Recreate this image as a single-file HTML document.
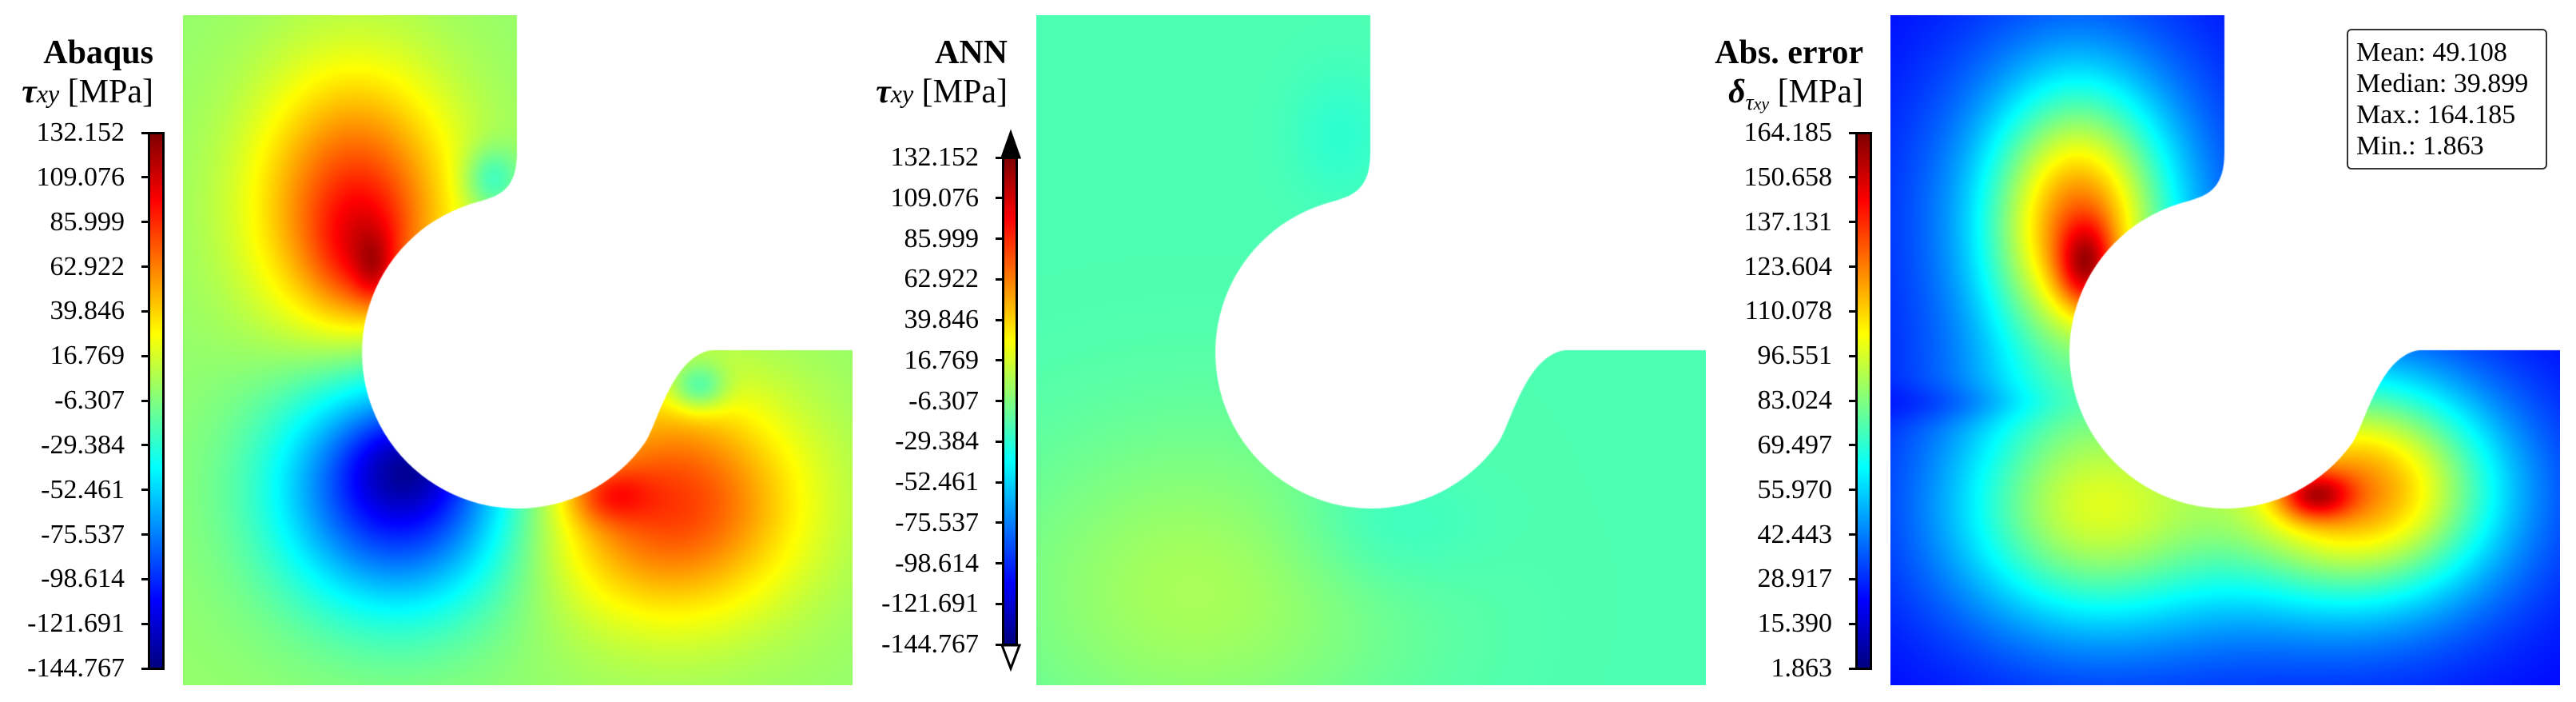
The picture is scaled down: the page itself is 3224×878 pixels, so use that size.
<!DOCTYPE html>
<html><head><meta charset="utf-8">
<style>
body{margin:0;background:#fff;width:3224px;height:878px;position:relative;overflow:hidden;font-family:"Liberation Serif",serif;color:#000}
.abs{position:absolute}
canvas{position:absolute}
.title{position:absolute;text-align:right;font-size:42px;line-height:1;white-space:nowrap}
.lbl{position:absolute;font-size:34px;text-align:right;width:150px;line-height:1;white-space:nowrap}
.cbar{position:absolute;border:3px solid #000;box-sizing:border-box;background:linear-gradient(to top,#000080 0%,#0000ff 12.5%,#00ffff 37.5%,#ffff00 62.5%,#ff0000 87.5%,#800000 100%)}
.tick{position:absolute;height:3px;background:#000;width:10px}
.stats{position:absolute;border:2px solid #333;border-radius:6px;font-size:34px;line-height:39px;padding:8px 8px 6px 10px;box-sizing:border-box;white-space:nowrap}
</style></head><body>

<div class="title" style="left:20px;top:45px;width:172px"><b>Abaqus</b></div>
<div class="title" style="left:0px;top:94px;width:192px"><b><i>τ</i></b><i style="font-size:32px">xy</i> [MPa]</div>
<div class="title" style="left:1060px;top:45px;width:201px"><b>ANN</b></div>
<div class="title" style="left:1060px;top:94px;width:201px"><b><i>τ</i></b><i style="font-size:32px">xy</i> [MPa]</div>
<div class="title" style="left:2100px;top:45px;width:232px"><b>Abs. error</b></div>
<div class="title" style="left:2100px;top:94px;width:232px"><b><i>δ</i></b><sub style="font-size:28px"><i>τ<span style="font-size:22px">xy</span></i></sub> [MPa]</div>

<div class="cbar" style="left:185px;top:165px;width:21px;height:673px"></div>
<div class="cbar" style="left:1254px;top:196px;width:20px;height:612px"></div>
<svg class="abs" style="left:1250px;top:160px" width="30" height="682">
<polygon points="4,37 26,37 15,6" fill="#000" stroke="#000" stroke-width="3"/>
<polygon points="4,647 26,647 15,676" fill="#fff" stroke="#000" stroke-width="3"/>
</svg>
<div class="cbar" style="left:2322px;top:165px;width:21px;height:673px"></div>

<div id="ticks"></div>

<div class="stats" style="left:2937px;top:36px;width:251px;height:176px">Mean: 49.108<br>Median: 39.899<br>Max.: 164.185<br>Min.: 1.863</div>

<canvas id="c1" width="838" height="838" style="left:229px;top:19px"></canvas>
<canvas id="c2" width="838" height="838" style="left:1297px;top:19px"></canvas>
<canvas id="c3" width="838" height="838" style="left:2366px;top:19px"></canvas>

<script>
const tauTicks=["132.152","109.076","85.999","62.922","39.846","16.769","-6.307","-29.384","-52.461","-75.537","-98.614","-121.691","-144.767"];
const errTicks=["164.185","150.658","137.131","123.604","110.078","96.551","83.024","69.497","55.970","42.443","28.917","15.390","1.863"];
// field blobs: [cx, cy, sx, sy, amplitude] in normalized colormap units
const abaqusBase=0.52;
const abaqusBlobs=[[215,240,125,170,0.3],[225,300,60,80,0.12],[240,320,25,45,0.1],[270,590,150,150,-0.42],[285,560,70,55,-0.1],[610,610,160,140,0.3],[530,600,50,35,0.12],[385,205,35,40,-0.12],[645,465,35,30,-0.15]];
const annBase=0.45;
const annBlobs=[[200,720,250,200,0.09],[430,640,120,80,-0.04],[380,150,60,80,-0.03]];
const errBase=0.12;
const errBlobs=[[235,265,105,160,0.42],[245,315,35,55,0.25],[230,250,200,250,0.22],[250,620,170,140,0.3],[250,640,240,200,0.12],[590,590,160,130,0.42],[530,600,45,30,0.25],[590,610,230,190,0.18],[80,485,150,25,-0.04]];

const tk=document.getElementById('ticks');
function makeTicks(labels,prefix,tickX,labelRight,top,bottom){
  const n=labels.length;
  labels.forEach((t,i)=>{
    const y=top+(bottom-top)*i/(n-1);
    const d=document.createElement('div');
    d.className='tick';
    d.style.left=tickX+'px';d.style.top=(y-1.5)+'px';
    
    
    tk.appendChild(d);
    const l=document.createElement('div');
    l.className='lbl';l.textContent=t;
    l.style.left=(labelRight-150)+'px';l.style.top=(y-17)+'px';
    
    
    tk.appendChild(l);
  });
}
makeTicks(tauTicks,'abaqus',177,156,166,836);
makeTicks(tauTicks,'ann',1246,1225,197,806);
makeTicks(errTicks,'error',2314,2293,166,836);

function jet(v){
  v=Math.max(0,Math.min(1,v));
  const c=x=>Math.max(0,Math.min(1,x));
  return [c(1.5-Math.abs(4*v-3))*255,c(1.5-Math.abs(4*v-2))*255,c(1.5-Math.abs(4*v-1))*255];
}
const shape=new Path2D("M0,0 L418,0 L418,171 C418,215 400,225 371,233 A195,195 0 1 0 578,535 C593,515 612,425 662,419 L838,419 L838,838 L0,838 Z");
function draw(id,base,blobs){
  const cv=document.getElementById(id),ctx=cv.getContext('2d');
  const W=838,H=838,img=ctx.createImageData(W,H),d=img.data;
  for(let y=0;y<H;y++)for(let x=0;x<W;x++){
    let v=base;
    for(const b of blobs){const dx=(x-b[0])/b[2],dy=(y-b[1])/b[3];v+=b[4]*Math.exp(-(dx*dx+dy*dy));}
    const c=jet(v),k=(y*W+x)*4;
    d[k]=c[0];d[k+1]=c[1];d[k+2]=c[2];d[k+3]=255;
  }
  ctx.putImageData(img,0,0);
  ctx.globalCompositeOperation='destination-in';
  ctx.fill(shape);
}
draw('c1',abaqusBase,abaqusBlobs);
draw('c2',annBase,annBlobs);
draw('c3',errBase,errBlobs);
</script>
</body></html>
